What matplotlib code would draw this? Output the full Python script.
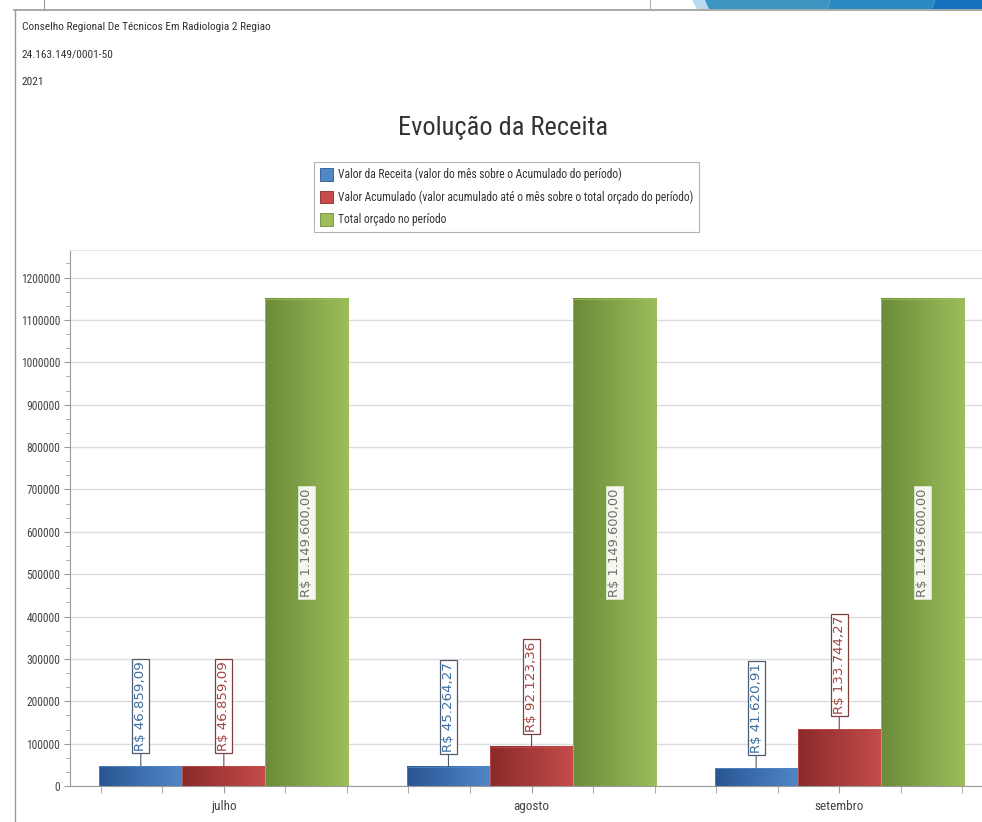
import numpy as np
import matplotlib
matplotlib.use("Agg")
import matplotlib.pyplot as plt
import matplotlib.patches as patches
from matplotlib.colors import LinearSegmentedColormap
from matplotlib.ticker import MultipleLocator, FixedLocator, FuncFormatter

# report data
months = ["julho", "agosto", "setembro"]
receita = [46859.09, 45264.27, 41620.91]
acumulado = [46859.09, 92123.36, 133744.27]
orcado = [1149600.00, 1149600.00, 1149600.00]

series_names = [
    "Valor da Receita (valor do mês sobre o Acumulado do período)",
    "Valor Acumulado (valor acumulado até o mês sobre o total orçado do período)",
    "Total orçado no período",
]

header_lines = [
    "Conselho Regional De Técnicos Em Radiologia 2 Regiao",
    "24.163.149/0001-50",
    "2021",
]

NARROW = ["Roboto Condensed", "DejaVu Sans"]

# (dark edge, light edge, label text, label border)
styles = [
    ("#2a5593", "#4f87c7", "#3c6d9f", "#4d5d6d"),
    ("#8a2a2a", "#c44c4a", "#a4433f", "#7d4040"),
    ("#6c8b39", "#9cbd5a", "#707070", "#dfe8cc"),
]


def fmt_brl(v):
    s = f"{v:,.2f}".replace(",", "X").replace(".", ",").replace("X", ".")
    return "R$ " + s


def gradient_bar(ax, x0, width, height, dark, light):
    cmap = LinearSegmentedColormap.from_list("g", [dark, light])
    grad = np.linspace(0, 1, 64).reshape(1, -1)
    ax.imshow(grad, cmap=cmap, extent=(x0, x0 + width, 0, height),
              aspect="auto", zorder=2, interpolation="bilinear")
    ax.add_patch(patches.Rectangle((x0, 0), width, height, fill=False,
                                   edgecolor=light, linewidth=0.6, zorder=2.1))


fig = plt.figure(figsize=(9.82, 8.22), dpi=100)
W, H = 982, 822


def fx(px):
    return px / W


def fy(py):
    return 1 - py / H


# page frame and header ribbon
fig.add_artist(plt.Line2D([fx(14), 1], [fy(10), fy(10)], color="#9a9a9a", lw=1.2))
fig.add_artist(plt.Line2D([fx(15), fx(15)], [fy(10), 0], color="#9a9a9a", lw=1.0))
fig.add_artist(plt.Line2D([fx(44), fx(44)], [1, fy(10)], color="#9a9a9a", lw=0.8))
fig.add_artist(plt.Line2D([fx(650), fx(650)], [1, fy(9)], color="#b0b0b0", lw=0.8))
ribbon = [
    ([(692, 0), (712, 0), (716, 9), (697, 9)], "#b9d9ef"),
    ([(705, 0), (830, 0), (828, 9), (709, 9)], "#3d96c2"),
    ([(830, 0), (935, 0), (932, 9), (828, 9)], "#2a89c0"),
    ([(935, 0), (982, 0), (982, 9), (932, 9)], "#1672c1"),
]
for pts, c in ribbon:
    fig.add_artist(patches.Polygon([(fx(a), fy(b)) for a, b in pts], closed=True,
                                   transform=fig.transFigure, facecolor=c, edgecolor="none"))

for i, line in enumerate(header_lines):
    fig.text(fx(22), fy(27 + 27.5 * i), line, fontsize=8.2, color="#333333",
             family=NARROW, va="center", ha="left")

fig.text(fx(503), fy(128), "Evolução da Receita", fontsize=19, color="#333333",
         family=NARROW, ha="center", va="center")

ax = fig.add_axes([fx(70), fy(786), 1 - fx(70), (786 - 250) / H])

x = np.arange(len(months))
width = 0.27
for j, vals in enumerate([receita, acumulado, orcado]):
    dark, light, tcol, bcol = styles[j]
    for i, v in enumerate(vals):
        xc = x[i] + (j - 1) * width
        gradient_bar(ax, xc - width / 2, width, v, dark, light)
        if j < 2:
            ax.annotate(fmt_brl(v), xy=(xc, v), xytext=(0, 11), textcoords="offset points",
                        rotation=90, ha="center", va="bottom", fontsize=9.6, color=tcol,
                        bbox=dict(boxstyle="square,pad=0.15", fc="white", ec=bcol, lw=0.9),
                        arrowprops=dict(arrowstyle="-", color=bcol, lw=0.8,
                                        shrinkA=0, shrinkB=0), zorder=4)
        else:
            ax.text(xc, v / 2, fmt_brl(v), rotation=90, ha="center", va="center",
                    fontsize=9.4, color=tcol, zorder=4,
                    bbox=dict(boxstyle="square,pad=0.15", fc="#f6f8f0", ec=bcol, lw=0.6))

ax.set_xlim(-0.5, 2.464)
ax.set_ylim(0, 1265000)

ax.yaxis.set_major_locator(MultipleLocator(100000))
ax.yaxis.set_minor_locator(MultipleLocator(100000 / 3))
ax.set_xticks(x)
ax.set_xticklabels(months)
ax.xaxis.set_minor_locator(FixedLocator([c + d for c in x for d in (-0.4, -0.2, 0.2, 0.4)]))
ax.yaxis.set_major_formatter(FuncFormatter(lambda v, p: f"{int(v)}"))

ax.grid(axis="y", color="#dcdcdc", linewidth=1.0, zorder=0)
ax.set_axisbelow(True)
ax.spines["right"].set_visible(False)
ax.spines["top"].set_color("#e6e6e6")
ax.spines["left"].set_color("#9a9a9a")
ax.spines["bottom"].set_color("#9a9a9a")
ax.tick_params(axis="both", which="both", colors="#9a9a9a", labelcolor="#444444")
ax.tick_params(axis="y", which="major", length=4, labelsize=8.3, pad=3)
ax.tick_params(axis="y", which="minor", length=3)
ax.tick_params(axis="x", which="both", length=5, labelsize=9.5, pad=5)
for lab in ax.get_xticklabels() + ax.get_yticklabels():
    lab.set_family(NARROW)

handles = [patches.Patch(facecolor=s[1], edgecolor=s[0], linewidth=0.6) for s in styles]
leg = fig.legend(handles, series_names, loc="upper left",
                 bbox_to_anchor=(fx(314), fy(162)), fancybox=False, frameon=True,
                 edgecolor="#a0a0a0", prop={"family": NARROW, "size": 8.3},
                 handlelength=1.15, handleheight=1.3, handletextpad=0.45,
                 labelspacing=0.8, borderpad=0.5, borderaxespad=0)
leg.get_frame().set_linewidth(0.8)
for t in leg.get_texts():
    t.set_color("#333333")

fig.savefig("out.png", dpi=100)
